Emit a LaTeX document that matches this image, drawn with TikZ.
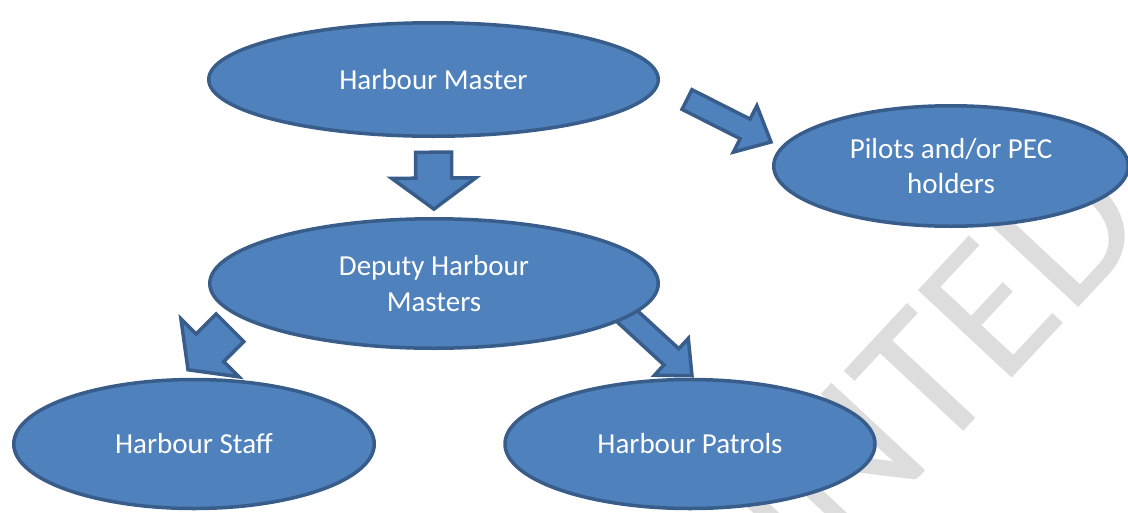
\documentclass[tikz,border=0pt]{standalone}
\usepackage{fontspec}
\setmainfont{Carlito}
\usepackage{tikz}
\usetikzlibrary{shapes,arrows,calc}
\pgfdeclarelayer{background}
\pgfsetlayers{background,main}
\definecolor{nodeblue}{RGB}{79,129,189}
\definecolor{edgeblue}{RGB}{56,93,138}
\definecolor{markgray}{RGB}{221,221,221}
\tikzstyle{blueellipse}=[ellipse, draw=edgeblue, fill=nodeblue, line width=3.5pt, text=white, align=center, inner sep=0pt, font=\fontsize{29}{35.5}\selectfont]
\tikzstyle{bigarrow}=[draw=edgeblue, fill=nodeblue, line width=3.5pt, line join=miter]
\newcommand{\blockarrow}[5]{%
\coordinate (hb) at ($(#2)!#5!(#1)$);
\draw[bigarrow] ($(#1)!#3!90:(#2)$) -- ($(hb)!#3!90:(#2)$) -- ($(hb)!#4!90:(#2)$) -- (#2) -- ($(hb)!#4!-90:(#2)$) -- ($(hb)!#3!-90:(#2)$) -- ($(#1)!#3!-90:(#2)$) -- cycle;}

\begin{document}
\begin{tikzpicture}[x=1pt,y=-1pt]
\useasboundingbox (0,0) rectangle (1128,512);

\node[blueellipse, minimum width=449.5pt, minimum height=113.5pt](hm) at (433.5,79.5) {Harbour Master};
\node[blueellipse, minimum width=354.5pt, minimum height=120.5pt](pil) at (951,166) {Pilots and/or PEC\\holders};
\node[blueellipse, minimum width=448.5pt, minimum height=129.5pt](dep) at (434,283.5) {Deputy Harbour\\Masters};
\node[blueellipse, minimum width=360.5pt, minimum height=129pt](stf) at (194,444) {Harbour Staff};
\node[blueellipse, minimum width=370pt, minimum height=129pt](pat) at (690,444) {Harbour Patrols};

\begin{pgfonlayer}{background}
\node[text=markgray, rotate=47, anchor=base, font=\fontsize{200}{200}\selectfont](mark) at (911,487) {PRINTED};
\coordinate (a1s) at ($(hm.south)!0.18!(dep.north)$);
\coordinate (a1e) at ($(hm.south)!0.9!(dep.north)$);
\coordinate (a2s) at ($(hm.east)+(27,20)$);
\coordinate (a2e) at ($(pil.west)+(-1,-24)$);
\coordinate (a3s) at ($(stf.north)+(36,-50)$);
\coordinate (a3e) at ($(stf.north)+(-6,-8)$);
\coordinate (a4s) at ($(pat.north)+(-72,-70)$);
\coordinate (a4e) at ($(pat.north)+(2,-2)$);
\blockarrow{a1s}{a1e}{18pt}{42pt}{31pt}
\blockarrow{a2s}{a2e}{11pt}{26pt}{29pt}
\blockarrow{a3s}{a3e}{19.5pt}{41pt}{31pt}
\blockarrow{a4s}{a4e}{11pt}{25pt}{28pt}
\end{pgfonlayer}

\end{tikzpicture}
\end{document}
